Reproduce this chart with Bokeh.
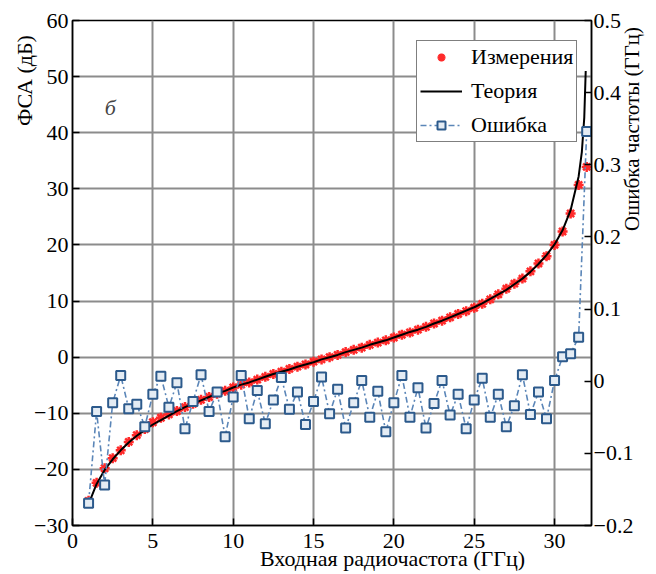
import math
from bokeh.plotting import figure
from bokeh.models import Range1d, LinearAxis, FixedTicker, Label, Legend, LegendItem
from bokeh.embed import file_html
from bokeh.resources import INLINE

# ---- data ----
freq = [1.0, 1.5, 2.0, 2.5, 3.0, 3.5, 4.0, 4.5, 5.0, 5.5, 6.0, 6.5, 7.0, 7.5, 8.0, 8.5,
        9.0, 9.5, 10.0, 10.5, 11.0, 11.5, 12.0, 12.5, 13.0, 13.5, 14.0, 14.5, 15.0, 15.5,
        16.0, 16.5, 17.0, 17.5, 18.0, 18.5, 19.0, 19.5, 20.0, 20.5, 21.0, 21.5, 22.0, 22.5,
        23.0, 23.5, 24.0, 24.5, 25.0, 25.5, 26.0, 26.5, 27.0, 27.5, 28.0, 28.5, 29.0, 29.5,
        30.0, 30.5, 31.0, 31.5, 32.0]

measured = [-25.6, -22.4, -19.8, -18.0, -16.6, -15.1, -13.9, -12.8, -11.6, -10.8, -10.2,
            -9.6, -8.9, -8.3, -7.6, -7.1, -6.5, -6.0, -5.4, -4.9, -4.5, -4.0, -3.5, -3.0,
            -2.6, -2.1, -1.7, -1.3, -0.8, -0.4, 0.0, 0.4, 0.9, 1.3, 1.7, 2.2, 2.6, 3.0, 3.5,
            4.0, 4.4, 4.9, 5.4, 6.0, 6.5, 7.1, 7.7, 8.2, 8.8, 9.5, 10.3, 11.2, 12.2, 13.1,
            14.0, 15.3, 16.7, 18.0, 20.0, 22.4, 25.6, 30.7, 33.9]

theory_freq = freq[:62] + [31.7, 31.85, 31.94]
theory = [-26.2, -22.6, -20.1, -18.2, -16.6, -15.2, -14.0, -13.0, -12.0, -11.2, -10.4,
          -9.6, -8.9, -8.3, -7.7, -7.1, -6.5, -6.0, -5.4, -4.9, -4.5, -4.0, -3.5, -3.0,
          -2.6, -2.2, -1.7, -1.3, -0.9, -0.4, 0.0, 0.4, 0.9, 1.3, 1.7, 2.2, 2.6, 3.0, 3.5,
          4.0, 4.5, 4.9, 5.4, 6.0, 6.5, 7.1, 7.7, 8.3, 8.9, 9.6, 10.4, 11.2, 12.0, 13.0,
          14.0, 15.2, 16.6, 18.2, 20.1, 22.6, 26.2, 32.2, 36.6, 42.7, 51.0]

error = [-0.169, -0.042, -0.144, -0.030, 0.008, -0.038, -0.032, -0.063, -0.018, 0.007,
         -0.036, -0.002, -0.066, -0.028, 0.009, -0.042, -0.015, -0.077, -0.022, 0.008,
         -0.052, -0.013, -0.059, -0.026, 0.005, -0.039, -0.015, -0.060, -0.028, 0.006,
         -0.045, -0.011, -0.065, -0.030, 0.001, -0.050, -0.014, -0.070, -0.030, 0.008,
         -0.050, -0.009, -0.065, -0.031, 0.001, -0.047, -0.018, -0.066, -0.026, 0.004,
         -0.050, -0.018, -0.063, -0.034, 0.009, -0.046, -0.015, -0.052, 0.001, 0.034,
         0.038, 0.061, 0.346]

x_ticks = [0, 5, 10, 15, 20, 25, 30]
y_ticks = [-30, -20, -10, 0, 10, 20, 30, 40, 50, 60]
y2_ticks = [-0.2, -0.1, 0.0, 0.1, 0.2, 0.3, 0.4, 0.5]
y_tick_labels = {-30: "−30", -20: "−20", -10: "−10"}
y2_tick_labels = {-0.2: "−0.2", -0.1: "−0.1", 0.0: "0"}

x_title = "Входная радиочастота (ГГц)"
y_title = "ФСА (дБ)"
y2_title = "Ошибка частоты (ГГц)"

FONT = "Liberation Serif"
FS = "22px"
NB = "\u00a0"

p = figure(frame_width=519, frame_height=505,
           x_range=Range1d(0, 32.3), y_range=Range1d(-30, 60),
           output_backend="svg", toolbar_location=None,
           min_border_left=72, min_border_right=65, min_border_top=20, min_border_bottom=49)
p.extra_y_ranges = {"err": Range1d(-0.2, 0.5)}

p.outline_line_color = "black"
p.outline_line_width = 1.5
p.background_fill_color = "white"

for g in (p.xgrid[0], p.ygrid[0]):
    g.grid_line_color = "#8c8c8c"
    g.grid_line_width = 2

def style_axis(ax, standoff):
    ax.axis_line_color = "black"
    ax.axis_line_width = 1.5
    ax.major_tick_line_color = "black"
    ax.major_tick_line_width = 1.5
    ax.major_tick_in = 7
    ax.major_tick_out = 0
    ax.minor_tick_line_color = None
    ax.major_label_text_font = FONT
    ax.major_label_text_font_size = FS
    ax.major_label_text_color = "black"
    ax.major_label_standoff = standoff
    ax.axis_label_text_font = FONT
    ax.axis_label_text_font_size = FS
    ax.axis_label_text_font_style = "normal"
    ax.axis_label_text_color = "black"

xax = p.xaxis[0]
yax = p.yaxis[0]
xax.ticker = FixedTicker(ticks=x_ticks)
yax.ticker = FixedTicker(ticks=y_ticks)
yax.major_label_overrides = y_tick_labels
style_axis(xax, 8)
style_axis(yax, 4)

ax2 = LinearAxis(y_range_name="err", ticker=FixedTicker(ticks=y2_ticks))
ax2.major_label_overrides = y2_tick_labels
style_axis(ax2, 2)
p.add_layout(ax2, "right")

# axis titles (non-breaking-space padding shifts them along the axis like in the original)
xax.axis_label = NB * 22 + x_title
xax.axis_label_standoff = -5
yax.axis_label = NB * 70 + y_title
yax.axis_label_standoff = -6
ax2.axis_label_orientation = math.pi / 2
ax2.axis_label = NB * 8 + y2_title
ax2.axis_label_text_font_size = "21px"
ax2.axis_label_standoff = -4

# ---- glyphs ----
r_meas = p.scatter(freq, measured, marker="asterisk", size=10,
                   line_color="#ff2a2a", line_width=2.5)
r_th = p.line(theory_freq, theory, line_color="black", line_width=2)
r_err_line = p.line(freq, error, y_range_name="err", line_color="#5b86b8",
                    line_width=1.6, line_dash="6 3 2 3")
r_err_pts = p.scatter(freq, error, y_range_name="err", marker="square", size=9,
                      line_color="#2c5a8c", line_width=2, fill_color="#e4ecf4")

legend = Legend(items=[
    LegendItem(label="Измерения", renderers=[r_meas]),
    LegendItem(label="Теория", renderers=[r_th]),
    LegendItem(label="Ошибка", renderers=[r_err_line, r_err_pts]),
], location=(344, 383))
legend.label_text_font = FONT
legend.label_text_font_size = FS
legend.label_text_color = "black"
legend.border_line_color = "black"
legend.border_line_width = 1
legend.background_fill_color = "white"
legend.background_fill_alpha = 1
legend.padding = 3
legend.spacing = 8
legend.margin = 0
legend.glyph_width = 42
legend.glyph_height = 20
legend.label_height = 20
legend.label_standoff = 9
p.add_layout(legend)

p.add_layout(Label(x=2.35, y=44.5, text="б", text_font=FONT, text_font_style="italic",
                   text_font_size=FS, text_align="center", text_baseline="middle"))

open("out.html", "w").write(file_html(p, INLINE))
